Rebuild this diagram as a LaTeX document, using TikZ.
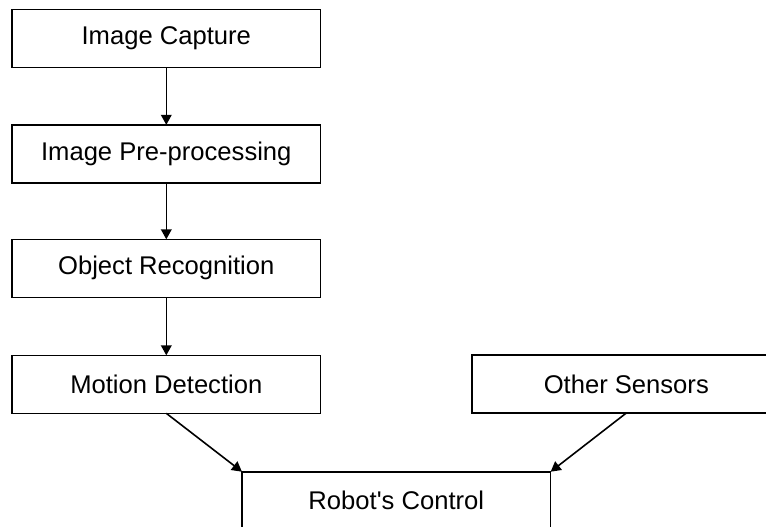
\documentclass[tikz,border=0pt]{standalone}
\usepackage{fontspec}
\setmainfont{Liberation Sans}
\usetikzlibrary{arrows.meta}

\begin{document}
\begin{tikzpicture}[x=0.75pt, y=-0.75pt,
  stage/.style={draw=black, line width=1.2pt, rectangle, inner sep=0pt, outer sep=0pt,
    minimum width=231.5pt, minimum height=43.5pt, font=\fontsize{19.2}{23}\selectfont},
  flow/.style={line width=1.2pt, -{Triangle[length=7.5pt, width=8pt]}}]
  % page frame and clipping window
  \fill[white] (0,0) rectangle (766,526);
  \clip (0,0) rectangle (766,526);

  % processing chain
  \node[stage] (cap) at (166.3,38.3) {Image Capture};
  \node[stage] (pre) at (166.3,153.8) {Image Pre-processing};
  \node[stage] (rec) at (166.3,268.3) {Object Recognition};
  \node[stage] (mot) at (166.3,384.3) {Motion Detection};
  \node[stage] (oth) at (626.3,384.0) {Other Sensors};
  \node[stage] (ctl) at (396.3,500.7) {Robot\textquotesingle s Control};

  % connectors
  \draw[flow] (cap) -- (pre);
  \draw[flow] (pre) -- (rec);
  \draw[flow] (rec) -- (mot);
  \draw[flow] (mot.south) -- (ctl.north west);
  \draw[flow] (oth.south) -- (ctl.north east);
\end{tikzpicture}
\end{document}
